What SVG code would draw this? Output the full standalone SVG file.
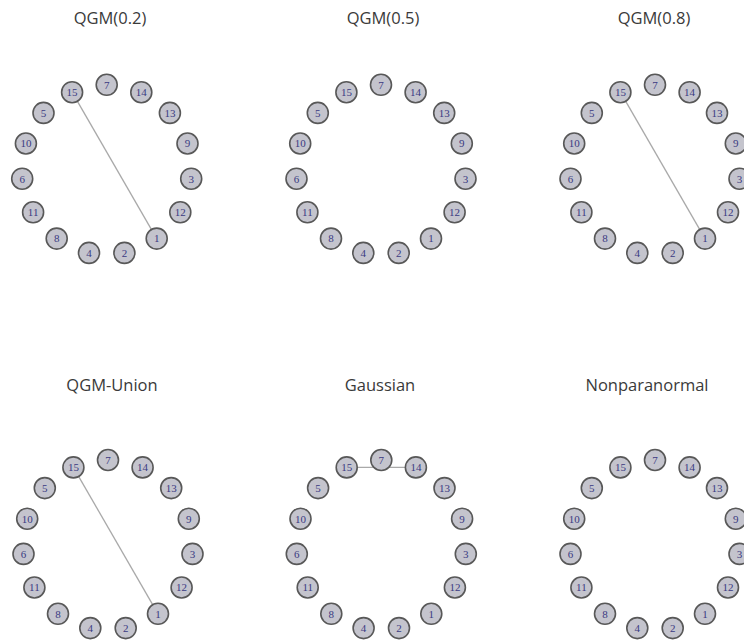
<svg xmlns="http://www.w3.org/2000/svg" width="744" height="641" viewBox="0 0 744 641">
<style>
.bg{fill:#ffffff}
.title{font-family:"Open Sans","Liberation Sans",sans-serif;font-size:16.5px;fill:#3a3a3a;text-anchor:middle}
.n circle{fill:#c4c4cd;stroke:#585858;stroke-width:1.6}
.n text{font-family:"Liberation Serif","DejaVu Serif",serif;font-size:11px;fill:#3a3a82;text-anchor:middle}
.e line{stroke:#a9a9a9;stroke-width:1.3}
</style>
<rect class="bg" x="0" y="0" width="744" height="641"/>
<g id="titles">
<text class="title" x="110" y="24">QGM(0.2)</text>
<text class="title" x="383" y="24">QGM(0.5)</text>
<text class="title" x="654" y="24">QGM(0.8)</text>
<text class="title" x="112" y="391">QGM-Union</text>
<text class="title" x="380" y="391">Gaussian</text>
<text class="title" x="647" y="391">Nonparanormal</text>
</g>
<g id="connectors" class="e">
<line x1="72.1" y1="92.2" x2="156.7" y2="238.6"/>
<line x1="620.4" y1="92.2" x2="705" y2="238.6"/>
<line x1="73.4" y1="467.4" x2="158" y2="613.8"/>
<line x1="346.7" y1="467.4" x2="415.9" y2="467.4"/>
</g>
<g id="panel1">
<g id="p1-n7" class="n" transform="translate(106.7,84.8)"><circle r="10.5"/><text y="3.8">7</text></g>
<g id="p1-n14" class="n" transform="translate(141.3,92.2)"><circle r="10.5"/><text y="3.8">14</text></g>
<g id="p1-n13" class="n" transform="translate(169.9,112.9)"><circle r="10.5"/><text y="3.8">13</text></g>
<g id="p1-n9" class="n" transform="translate(187.5,143.5)"><circle r="10.5"/><text y="3.8">9</text></g>
<g id="p1-n3" class="n" transform="translate(191.2,178.7)"><circle r="10.5"/><text y="3.8">3</text></g>
<g id="p1-n12" class="n" transform="translate(180.3,212.3)"><circle r="10.5"/><text y="3.8">12</text></g>
<g id="p1-n1" class="n" transform="translate(156.7,238.6)"><circle r="10.5"/><text y="3.8">1</text></g>
<g id="p1-n2" class="n" transform="translate(124.4,252.9)"><circle r="10.5"/><text y="3.8">2</text></g>
<g id="p1-n4" class="n" transform="translate(89,252.9)"><circle r="10.5"/><text y="3.8">4</text></g>
<g id="p1-n8" class="n" transform="translate(56.7,238.6)"><circle r="10.5"/><text y="3.8">8</text></g>
<g id="p1-n11" class="n" transform="translate(33.1,212.3)"><circle r="10.5"/><text y="3.8">11</text></g>
<g id="p1-n6" class="n" transform="translate(22.2,178.7)"><circle r="10.5"/><text y="3.8">6</text></g>
<g id="p1-n10" class="n" transform="translate(25.9,143.5)"><circle r="10.5"/><text y="3.8">10</text></g>
<g id="p1-n5" class="n" transform="translate(43.5,112.9)"><circle r="10.5"/><text y="3.8">5</text></g>
<g id="p1-n15" class="n" transform="translate(72.1,92.2)"><circle r="10.5"/><text y="3.8">15</text></g>
</g>
<g id="panel2">
<g id="p2-n7" class="n" transform="translate(381,84.8)"><circle r="10.5"/><text y="3.8">7</text></g>
<g id="p2-n14" class="n" transform="translate(415.6,92.2)"><circle r="10.5"/><text y="3.8">14</text></g>
<g id="p2-n13" class="n" transform="translate(444.2,112.9)"><circle r="10.5"/><text y="3.8">13</text></g>
<g id="p2-n9" class="n" transform="translate(461.8,143.5)"><circle r="10.5"/><text y="3.8">9</text></g>
<g id="p2-n3" class="n" transform="translate(465.5,178.7)"><circle r="10.5"/><text y="3.8">3</text></g>
<g id="p2-n12" class="n" transform="translate(454.6,212.3)"><circle r="10.5"/><text y="3.8">12</text></g>
<g id="p2-n1" class="n" transform="translate(431,238.6)"><circle r="10.5"/><text y="3.8">1</text></g>
<g id="p2-n2" class="n" transform="translate(398.7,252.9)"><circle r="10.5"/><text y="3.8">2</text></g>
<g id="p2-n4" class="n" transform="translate(363.3,252.9)"><circle r="10.5"/><text y="3.8">4</text></g>
<g id="p2-n8" class="n" transform="translate(331,238.6)"><circle r="10.5"/><text y="3.8">8</text></g>
<g id="p2-n11" class="n" transform="translate(307.4,212.3)"><circle r="10.5"/><text y="3.8">11</text></g>
<g id="p2-n6" class="n" transform="translate(296.5,178.7)"><circle r="10.5"/><text y="3.8">6</text></g>
<g id="p2-n10" class="n" transform="translate(300.2,143.5)"><circle r="10.5"/><text y="3.8">10</text></g>
<g id="p2-n5" class="n" transform="translate(317.8,112.9)"><circle r="10.5"/><text y="3.8">5</text></g>
<g id="p2-n15" class="n" transform="translate(346.4,92.2)"><circle r="10.5"/><text y="3.8">15</text></g>
</g>
<g id="panel3">
<g id="p3-n7" class="n" transform="translate(655,84.8)"><circle r="10.5"/><text y="3.8">7</text></g>
<g id="p3-n14" class="n" transform="translate(689.6,92.2)"><circle r="10.5"/><text y="3.8">14</text></g>
<g id="p3-n13" class="n" transform="translate(717,112.9)"><circle r="10.5"/><text y="3.8">13</text></g>
<g id="p3-n9" class="n" transform="translate(735.8,143.5)"><circle r="10.5"/><text y="3.8">9</text></g>
<g id="p3-n3" class="n" transform="translate(739.5,178.7)"><circle r="10.5"/><text y="3.8">3</text></g>
<g id="p3-n12" class="n" transform="translate(728,212.3)"><circle r="10.5"/><text y="3.8">12</text></g>
<g id="p3-n1" class="n" transform="translate(705,238.6)"><circle r="10.5"/><text y="3.8">1</text></g>
<g id="p3-n2" class="n" transform="translate(672.7,252.9)"><circle r="10.5"/><text y="3.8">2</text></g>
<g id="p3-n4" class="n" transform="translate(637.3,252.9)"><circle r="10.5"/><text y="3.8">4</text></g>
<g id="p3-n8" class="n" transform="translate(605,238.6)"><circle r="10.5"/><text y="3.8">8</text></g>
<g id="p3-n11" class="n" transform="translate(581.4,212.3)"><circle r="10.5"/><text y="3.8">11</text></g>
<g id="p3-n6" class="n" transform="translate(570.5,178.7)"><circle r="10.5"/><text y="3.8">6</text></g>
<g id="p3-n10" class="n" transform="translate(574.2,143.5)"><circle r="10.5"/><text y="3.8">10</text></g>
<g id="p3-n5" class="n" transform="translate(591.8,112.9)"><circle r="10.5"/><text y="3.8">5</text></g>
<g id="p3-n15" class="n" transform="translate(620.4,92.2)"><circle r="10.5"/><text y="3.8">15</text></g>
</g>
<g id="panel4">
<g id="p4-n7" class="n" transform="translate(108,460)"><circle r="10.5"/><text y="3.8">7</text></g>
<g id="p4-n14" class="n" transform="translate(142.6,467.4)"><circle r="10.5"/><text y="3.8">14</text></g>
<g id="p4-n13" class="n" transform="translate(171.2,488.1)"><circle r="10.5"/><text y="3.8">13</text></g>
<g id="p4-n9" class="n" transform="translate(188.8,518.7)"><circle r="10.5"/><text y="3.8">9</text></g>
<g id="p4-n3" class="n" transform="translate(192.5,553.9)"><circle r="10.5"/><text y="3.8">3</text></g>
<g id="p4-n12" class="n" transform="translate(181.6,587.5)"><circle r="10.5"/><text y="3.8">12</text></g>
<g id="p4-n1" class="n" transform="translate(158,613.8)"><circle r="10.5"/><text y="3.8">1</text></g>
<g id="p4-n2" class="n" transform="translate(125.7,628.1)"><circle r="10.5"/><text y="3.8">2</text></g>
<g id="p4-n4" class="n" transform="translate(90.3,628.1)"><circle r="10.5"/><text y="3.8">4</text></g>
<g id="p4-n8" class="n" transform="translate(58,613.8)"><circle r="10.5"/><text y="3.8">8</text></g>
<g id="p4-n11" class="n" transform="translate(34.4,587.5)"><circle r="10.5"/><text y="3.8">11</text></g>
<g id="p4-n6" class="n" transform="translate(23.5,553.9)"><circle r="10.5"/><text y="3.8">6</text></g>
<g id="p4-n10" class="n" transform="translate(27.2,518.7)"><circle r="10.5"/><text y="3.8">10</text></g>
<g id="p4-n5" class="n" transform="translate(44.8,488.1)"><circle r="10.5"/><text y="3.8">5</text></g>
<g id="p4-n15" class="n" transform="translate(73.4,467.4)"><circle r="10.5"/><text y="3.8">15</text></g>
</g>
<g id="panel5">
<g id="p5-n7" class="n" transform="translate(381.3,460)"><circle r="10.5"/><text y="3.8">7</text></g>
<g id="p5-n14" class="n" transform="translate(415.9,467.4)"><circle r="10.5"/><text y="3.8">14</text></g>
<g id="p5-n13" class="n" transform="translate(444.5,488.1)"><circle r="10.5"/><text y="3.8">13</text></g>
<g id="p5-n9" class="n" transform="translate(462.1,518.7)"><circle r="10.5"/><text y="3.8">9</text></g>
<g id="p5-n3" class="n" transform="translate(465.8,553.9)"><circle r="10.5"/><text y="3.8">3</text></g>
<g id="p5-n12" class="n" transform="translate(454.9,587.5)"><circle r="10.5"/><text y="3.8">12</text></g>
<g id="p5-n1" class="n" transform="translate(431.3,613.8)"><circle r="10.5"/><text y="3.8">1</text></g>
<g id="p5-n2" class="n" transform="translate(399,628.1)"><circle r="10.5"/><text y="3.8">2</text></g>
<g id="p5-n4" class="n" transform="translate(363.6,628.1)"><circle r="10.5"/><text y="3.8">4</text></g>
<g id="p5-n8" class="n" transform="translate(331.3,613.8)"><circle r="10.5"/><text y="3.8">8</text></g>
<g id="p5-n11" class="n" transform="translate(307.7,587.5)"><circle r="10.5"/><text y="3.8">11</text></g>
<g id="p5-n6" class="n" transform="translate(296.8,553.9)"><circle r="10.5"/><text y="3.8">6</text></g>
<g id="p5-n10" class="n" transform="translate(300.5,518.7)"><circle r="10.5"/><text y="3.8">10</text></g>
<g id="p5-n5" class="n" transform="translate(318.1,488.1)"><circle r="10.5"/><text y="3.8">5</text></g>
<g id="p5-n15" class="n" transform="translate(346.7,467.4)"><circle r="10.5"/><text y="3.8">15</text></g>
</g>
<g id="panel6">
<g id="p6-n7" class="n" transform="translate(655,460)"><circle r="10.5"/><text y="3.8">7</text></g>
<g id="p6-n14" class="n" transform="translate(689.6,467.4)"><circle r="10.5"/><text y="3.8">14</text></g>
<g id="p6-n13" class="n" transform="translate(717,488.1)"><circle r="10.5"/><text y="3.8">13</text></g>
<g id="p6-n9" class="n" transform="translate(735.8,518.7)"><circle r="10.5"/><text y="3.8">9</text></g>
<g id="p6-n3" class="n" transform="translate(739.5,553.9)"><circle r="10.5"/><text y="3.8">3</text></g>
<g id="p6-n12" class="n" transform="translate(728,587.5)"><circle r="10.5"/><text y="3.8">12</text></g>
<g id="p6-n1" class="n" transform="translate(705,613.8)"><circle r="10.5"/><text y="3.8">1</text></g>
<g id="p6-n2" class="n" transform="translate(672.7,628.1)"><circle r="10.5"/><text y="3.8">2</text></g>
<g id="p6-n4" class="n" transform="translate(637.3,628.1)"><circle r="10.5"/><text y="3.8">4</text></g>
<g id="p6-n8" class="n" transform="translate(605,613.8)"><circle r="10.5"/><text y="3.8">8</text></g>
<g id="p6-n11" class="n" transform="translate(581.4,587.5)"><circle r="10.5"/><text y="3.8">11</text></g>
<g id="p6-n6" class="n" transform="translate(570.5,553.9)"><circle r="10.5"/><text y="3.8">6</text></g>
<g id="p6-n10" class="n" transform="translate(574.2,518.7)"><circle r="10.5"/><text y="3.8">10</text></g>
<g id="p6-n5" class="n" transform="translate(591.8,488.1)"><circle r="10.5"/><text y="3.8">5</text></g>
<g id="p6-n15" class="n" transform="translate(620.4,467.4)"><circle r="10.5"/><text y="3.8">15</text></g>
</g>
</svg>
